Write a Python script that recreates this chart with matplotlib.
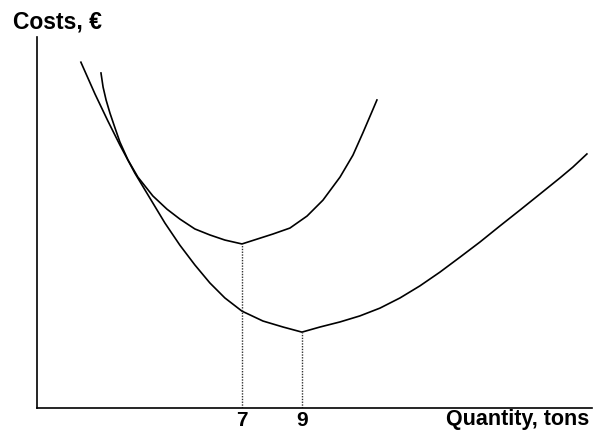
import matplotlib
matplotlib.use('Agg')
import matplotlib.pyplot as plt

##########################  DATA  ########################

# lower U curve, minimum at 9 tons
lowerQty = [1.63, 2.10, 2.53, 2.93, 3.43, 3.93, 4.43, 4.93, 5.43, 5.93, 6.43,
            7.0, 7.70, 8.37, 9.0, 9.60, 10.27, 10.93, 11.60, 12.27, 12.93,
            13.60, 14.27, 14.93, 15.60, 16.27, 16.93, 17.60, 18.03, 18.50]
lowerCost = [11.53, 10.47, 9.57, 8.77, 7.83, 7.00, 6.17, 5.43, 4.77, 4.17,
             3.67, 3.23, 2.90, 2.70, 2.53, 2.70, 2.87, 3.07, 3.33, 3.67, 4.07,
             4.53, 5.03, 5.53, 6.07, 6.60, 7.13, 7.67, 8.03, 8.47]

# upper U curve, minimum at 7 tons
upperQty = [2.30, 2.37, 2.47, 2.60, 2.77, 2.93, 3.20, 3.53, 4.03, 4.50, 4.93,
            5.43, 5.93, 6.43, 7.0, 7.50, 8.03, 8.60, 9.17, 9.70, 10.27, 10.70,
            11.03, 11.33, 11.50]
upperCost = [11.17, 10.70, 10.27, 9.83, 9.33, 8.87, 8.27, 7.70, 7.07, 6.63,
             6.30, 5.97, 5.77, 5.60, 5.47, 5.63, 5.80, 6.00, 6.40, 6.93, 7.70,
             8.43, 9.17, 9.87, 10.27]

minQty = [7, 9]
minCost = [5.47, 2.53]
tickLabels = ['7', '9']

###############################  PLOTTING  ####################################

plt.rcParams['font.family'] = ['Liberation Sans', 'DejaVu Sans']

fig = plt.figure(figsize=(5.98, 4.40), dpi=100)
ax = fig.add_axes([37 / 598, 32 / 440, 555 / 598, 371 / 440])

ax.plot(lowerQty, lowerCost, color='black', linewidth=1.2, solid_joinstyle='round')
ax.plot(upperQty, upperCost, color='black', linewidth=1.2, solid_joinstyle='round')
ax.vlines(minQty, 0, minCost, colors='#333333', linestyles=(0, (1, 1)), linewidth=1.0)

ax.set_xlim(0.167, 18.67)
ax.set_ylim(0, 12.37)

for side in ['top', 'right']:
    ax.spines[side].set_visible(False)
for side in ['left', 'bottom']:
    ax.spines[side].set_linewidth(1.2)

ax.set_xticks(minQty)
ax.set_xticklabels(tickLabels, fontsize=15, fontweight='bold')
ax.tick_params(axis='x', length=0, pad=2)
ax.set_yticks([])

fig.text(13 / 598, 1 - 29 / 440, 'Costs, €', fontsize=16.5, fontweight='bold',
         ha='left', va='baseline')
fig.text(589 / 598, 1 - 425 / 440, 'Quantity, tons', fontsize=15.5, fontweight='bold',
         ha='right', va='baseline')

fig.savefig('out.png', dpi=100)
plt.close()
